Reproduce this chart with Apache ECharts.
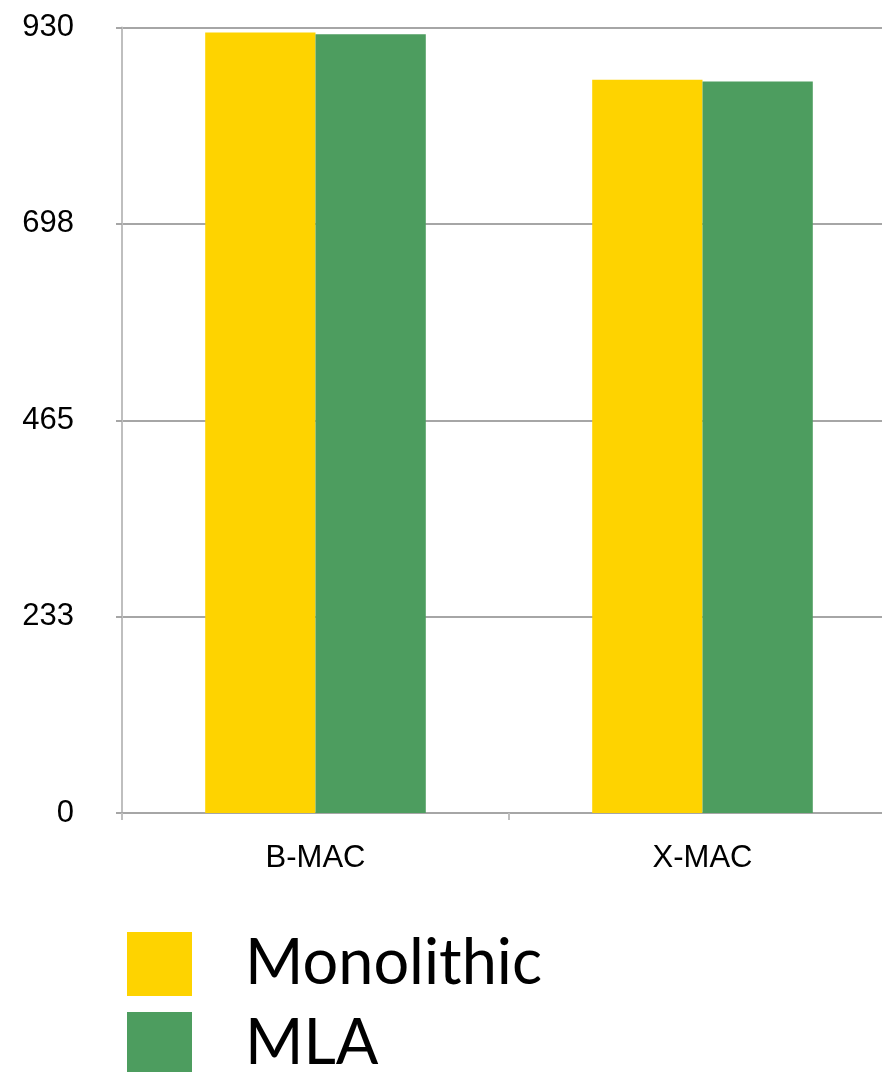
<!DOCTYPE html>
<html>
<head>
<meta charset="utf-8">
<script src="https://cdn.jsdelivr.net/npm/echarts@6/dist/echarts.min.js"></script>
<style>
  html, body { margin: 0; padding: 0; background: #ffffff; }
  #chart { width: 882px; height: 1072px; }
</style>
</head>
<body>
<div id="chart"></div>
<script>
// Protocol categories and energy values per architecture
const categories = ['B-MAC', 'X-MAC'];
const monolithic = [924, 868];
const mla = [922, 866];
const yTickLabels = ['0', '233', '465', '698', '930'];
const seriesNames = ['Monolithic', 'MLA'];

const yMax = 930;
const yStep = yMax / (yTickLabels.length - 1);

const chart = echarts.init(document.getElementById('chart'), null, { renderer: 'canvas' });

chart.setOption({
  animation: false,
  backgroundColor: '#ffffff',
  color: ['#FED300', '#4D9D5F'],
  // plot area runs slightly past the right edge of the canvas
  grid: {
    left: 122, top: 27.5, width: 774, bottom: 259,
    containLabel: false,
    outerBoundsMode: 'none'
  },
  legend: {
    data: seriesNames,
    orient: 'vertical',
    left: 122,
    top: 927,
    height: 300,
    icon: 'rect',
    itemWidth: 65,
    itemHeight: 64,
    itemGap: 16,
    textStyle: {
      fontFamily: 'Lato',
      fontSize: 63,
      color: '#000000',
      padding: [0, 0, 0, 48]
    }
  },
  xAxis: {
    type: 'category',
    data: categories,
    axisLine: { lineStyle: { color: '#a6a6a6', width: 2 } },
    axisTick: { show: true, length: 7, lineStyle: { color: '#bfbfbf', width: 2 } },
    axisLabel: { fontFamily: 'Liberation Sans', fontSize: 31, color: '#000000', margin: 30 },
    splitLine: { show: false }
  },
  yAxis: {
    type: 'value',
    min: 0,
    max: yMax,
    interval: yStep,
    axisLine: { show: true, lineStyle: { color: '#bfbfbf', width: 2 } },
    axisTick: { show: true, length: 6, lineStyle: { color: '#a6a6a6', width: 2 } },
    axisLabel: {
      fontFamily: 'Liberation Sans',
      fontSize: 31,
      color: '#000000',
      margin: 48,
      formatter: function (v) { return yTickLabels[Math.round(v / yStep)]; }
    },
    splitLine: { show: true, lineStyle: { color: '#a6a6a6', width: 2 } }
  },
  series: [
    {
      name: seriesNames[0],
      type: 'bar',
      data: monolithic,
      barGap: '0%',
      barCategoryGap: '43%'
    },
    {
      name: seriesNames[1],
      type: 'bar',
      data: mla,
      barGap: '0%',
      barCategoryGap: '43%'
    }
  ]
});
</script>
</body>
</html>
